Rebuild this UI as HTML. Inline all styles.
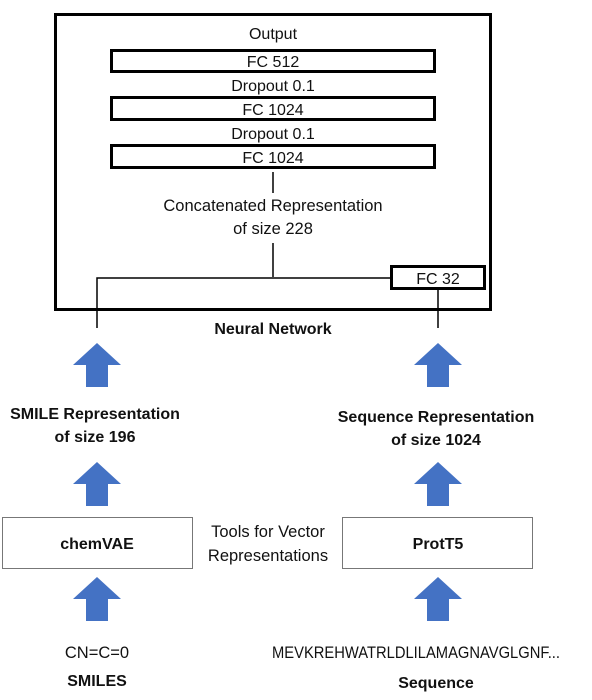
<!DOCTYPE html>
<html><head><style>
body{margin:0;width:592px;height:695px;background:#fff;overflow:hidden}
svg text{font-family:"Liberation Sans",sans-serif;fill:#111}
</style></head><body>
<svg width="592" height="695" viewBox="0 0 592 695" xmlns="http://www.w3.org/2000/svg">
<defs>
<polygon id="ar" points="0,0 24,22 11,22 11,44 -11,44 -11,22 -24,22" fill="#4472C4"/>
</defs>
<rect x="55.5" y="14.5" width="435" height="295" fill="none" stroke="#000" stroke-width="3"/>
<g font-size="16" text-anchor="middle">
<text x="273" y="39">Output</text>
<rect x="111.5" y="50.5" width="323" height="21" fill="none" stroke="#000" stroke-width="3"/>
<text x="273" y="67">FC 512</text>
<text x="273" y="91">Dropout 0.1</text>
<rect x="111.5" y="97.5" width="323" height="22" fill="none" stroke="#000" stroke-width="3"/>
<text x="273" y="115">FC 1024</text>
<text x="273" y="139">Dropout 0.1</text>
<rect x="111.5" y="145.5" width="323" height="22" fill="none" stroke="#000" stroke-width="3"/>
<text x="273" y="163">FC 1024</text>
<text x="273" y="211" font-size="16.5">Concatenated Representation</text>
<text x="273" y="234" font-size="16.5">of size 228</text>
<rect x="391.5" y="266.5" width="93" height="22" fill="none" stroke="#000" stroke-width="3"/>
<text x="438" y="284">FC 32</text>
</g>
<g stroke="#000" stroke-width="1.5" fill="none">
<line x1="273" y1="172" x2="273" y2="193"/>
<line x1="273" y1="243" x2="273" y2="277"/>
<polyline points="97,328 97,278 391,278"/>
<line x1="438" y1="290" x2="438" y2="328"/>
</g>
<text x="273" y="334" font-size="16" font-weight="bold" text-anchor="middle">Neural Network</text>
<use href="#ar" x="97" y="343"/><use href="#ar" x="438" y="343"/>
<use href="#ar" x="97" y="462"/><use href="#ar" x="438" y="462"/>
<use href="#ar" x="97" y="577"/><use href="#ar" x="438" y="577"/>
<g font-size="16" font-weight="bold" text-anchor="middle">
<text x="95" y="419">SMILE Representation</text>
<text x="95" y="442">of size 196</text>
<text x="436" y="422">Sequence Representation</text>
<text x="436" y="445">of size 1024</text>
<text x="97" y="549">chemVAE</text>
<text x="438" y="549">ProtT5</text>
<text x="97" y="686">SMILES</text>
<text x="436" y="688">Sequence</text>
</g>
<rect x="2.5" y="517.5" width="190" height="51" fill="none" stroke="#777" stroke-width="1"/>
<rect x="342.5" y="517.5" width="190" height="51" fill="none" stroke="#777" stroke-width="1"/>
<g font-size="16.5" text-anchor="middle">
<text x="268" y="537">Tools for Vector</text>
<text x="268" y="561">Representations</text>
<text x="97" y="658">CN=C=0</text>
<text x="416" y="658" textLength="288" lengthAdjust="spacingAndGlyphs">MEVKREHWATRLDLILAMAGNAVGLGNF...</text>
</g>
</svg>
</body></html>
